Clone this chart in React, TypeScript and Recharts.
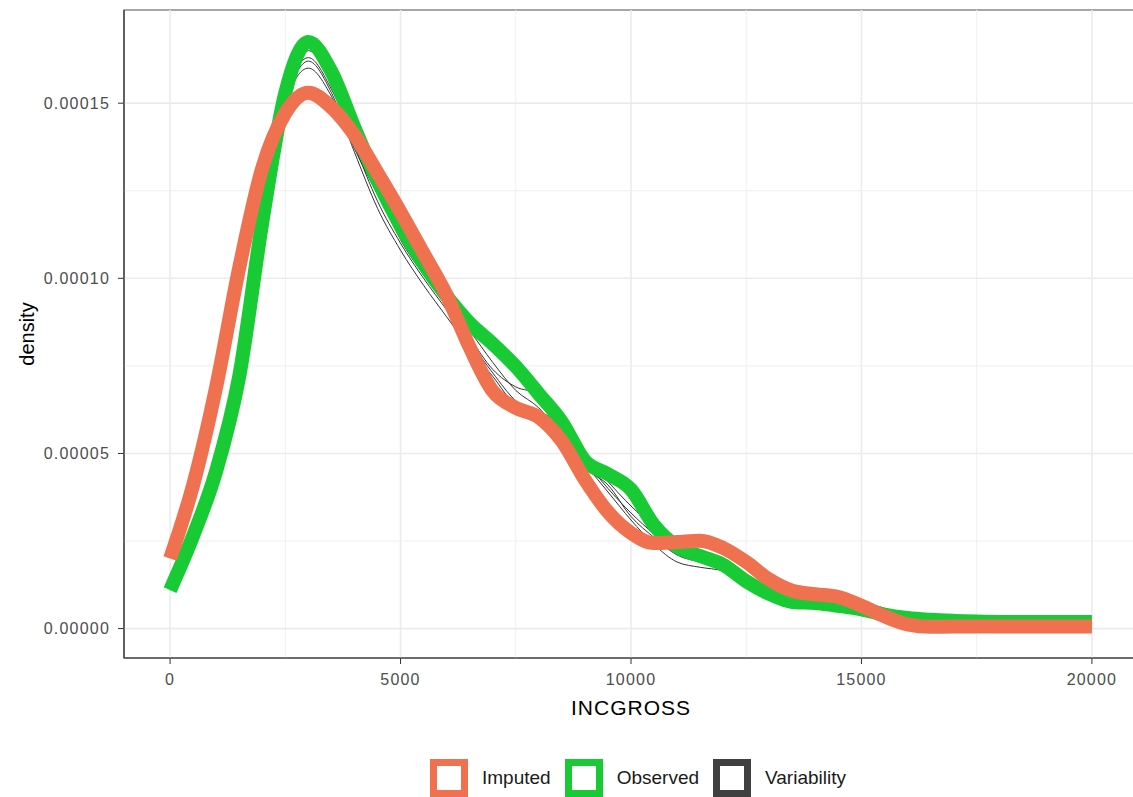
import { LineChart, Line, XAxis, YAxis, ReferenceLine, ReferenceArea, Legend } from 'recharts';

// INCGROSS grid (every 500)
const incgross = [
  0, 500, 1000, 1500, 2000, 2500, 3000, 3500, 4000, 4500,
  5000, 5500, 6000, 6500, 7000, 7500, 8000, 8500, 9000, 9500,
  10000, 10500, 11000, 11500, 12000, 12500, 13000, 13500, 14000, 14500,
  15000, 15500, 16000, 16500, 17000, 17500, 18000, 18500, 19000, 19500, 20000,
];

const imputed = [
  2.0e-5, 4.1e-5, 6.9e-5, 1.03e-4, 1.315e-4, 1.472e-4, 1.53e-4, 1.488e-4, 1.409e-4, 1.301e-4,
  1.189e-4, 1.071e-4, 9.52e-5, 8.03e-5, 6.78e-5, 6.3e-5, 6.03e-5, 5.35e-5, 4.25e-5, 3.33e-5,
  2.73e-5, 2.44e-5, 2.47e-5, 2.51e-5, 2.3e-5, 1.9e-5, 1.4e-5, 1.08e-5, 9.8e-6, 9.0e-6,
  6.5e-6, 3.5e-6, 1.2e-6, 5e-7, 6e-7, 6e-7, 6e-7, 6e-7, 6e-7, 6e-7, 6e-7,
];

const observed = [
  1.1e-5, 2.65e-5, 4.5e-5, 7.2e-5, 1.16e-4, 1.53e-4, 1.675e-4, 1.59e-4, 1.43e-4, 1.279e-4,
  1.15e-4, 1.041e-4, 9.49e-5, 8.72e-5, 8.13e-5, 7.48e-5, 6.7e-5, 5.9e-5, 4.79e-5, 4.41e-5,
  3.97e-5, 2.95e-5, 2.34e-5, 2.07e-5, 1.82e-5, 1.35e-5, 9.9e-6, 7.6e-6, 7.3e-6, 6.5e-6,
  5.5e-6, 4.0e-6, 3.0e-6, 2.5e-6, 2.2e-6, 2.0e-6, 1.9e-6, 1.9e-6, 1.9e-6, 1.9e-6, 1.9e-6,
];

// variability draws (thin black lines)
const var1 = [
  1.1e-5, 2.6e-5, 4.6e-5, 7.4e-5, 1.17e-4, 1.52e-4, 1.65e-4, 1.55e-4, 1.38e-4, 1.22e-4,
  1.1e-4, 1.0e-4, 9.1e-5, 8.2e-5, 7.3e-5, 6.5e-5, 6.1e-5, 5.6e-5, 4.8e-5, 4.0e-5,
  3.3e-5, 2.7e-5, 2.2e-5, 1.9e-5, 1.7e-5, 1.4e-5, 1.15e-5, 1.0e-5, 9.5e-6, 9.0e-6,
  7.5e-6, 5.5e-6, 4.0e-6, 3.0e-6, 2.2e-6, 2.0e-6, 1.9e-6, 1.8e-6, 1.8e-6, 1.8e-6, 1.8e-6,
];
const var2 = [
  1.2e-5, 2.7e-5, 4.7e-5, 7.5e-5, 1.18e-4, 1.5e-4, 1.62e-4, 1.53e-4, 1.36e-4, 1.2e-4,
  1.08e-4, 9.8e-5, 8.9e-5, 8.0e-5, 7.2e-5, 6.4e-5, 6.2e-5, 5.8e-5, 5.0e-5, 4.2e-5,
  3.5e-5, 2.9e-5, 2.4e-5, 2.1e-5, 1.9e-5, 1.5e-5, 1.2e-5, 1.05e-5, 9.5e-6, 8.8e-6,
  7.8e-6, 5.8e-6, 4.0e-6, 3.0e-6, 2.5e-6, 2.2e-6, 2.0e-6, 1.9e-6, 1.9e-6, 1.9e-6, 1.9e-6,
];
const var3 = [
  1.1e-5, 2.6e-5, 4.5e-5, 7.3e-5, 1.16e-4, 1.5e-4, 1.6e-4, 1.52e-4, 1.37e-4, 1.24e-4,
  1.12e-4, 1.02e-4, 9.3e-5, 8.5e-5, 7.6e-5, 6.8e-5, 6.3e-5, 5.5e-5, 4.7e-5, 3.9e-5,
  3.1e-5, 2.4e-5, 1.9e-5, 1.75e-5, 1.65e-5, 1.4e-5, 1.15e-5, 1.0e-5, 9.0e-6, 8.5e-6,
  7.2e-6, 5.0e-6, 3.5e-6, 2.5e-6, 2.0e-6, 1.8e-6, 1.7e-6, 1.7e-6, 1.7e-6, 1.7e-6, 1.7e-6,
];
const var4 = [
  1.1e-5, 2.6e-5, 4.6e-5, 7.3e-5, 1.17e-4, 1.51e-4, 1.63e-4, 1.54e-4, 1.39e-4, 1.25e-4,
  1.11e-4, 1.01e-4, 9.2e-5, 8.3e-5, 7.4e-5, 6.9e-5, 6.7e-5, 5.6e-5, 4.6e-5, 4.1e-5,
  3.2e-5, 2.6e-5, 2.1e-5, 1.9e-5, 1.75e-5, 1.45e-5, 1.2e-5, 1.0e-5, 9.3e-6, 9.0e-6,
  7.5e-6, 5.5e-6, 3.8e-6, 2.8e-6, 2.2e-6, 2.0e-6, 1.9e-6, 1.8e-6, 1.8e-6, 1.8e-6, 1.8e-6,
];

const xTicks = [0, 5000, 10000, 15000, 20000];
const xMinor = [2500, 7500, 12500, 17500];
const yTicks = [0, 0.00005, 0.0001, 0.00015];
const yMinor = [0.000025, 0.000075, 0.000125];

const legendItems = [
  { name: 'Imputed', color: '#F07150' },
  { name: 'Observed', color: '#18CB34' },
  { name: 'Variability', color: '#404040' },
];

const data = incgross.map((x, i) => ({
  x,
  imputed: imputed[i],
  observed: observed[i],
  v1: var1[i],
  v2: var2[i],
  v3: var3[i],
  v4: var4[i],
}));

const FONT = '"Liberation Sans", Arial, sans-serif';

const tickStyle = { fontFamily: FONT, fontSize: 16, fill: '#4D4D4D', letterSpacing: 1.2 };

const renderLegend = () => (
  <div style={{ display: 'flex', alignItems: 'center', fontFamily: FONT, fontSize: 19, color: '#1A1A1A' }}>
    {legendItems.map((it) => (
      <div key={it.name} style={{ display: 'flex', alignItems: 'center', marginRight: 14 }}>
        <svg width={38} height={38}>
          <rect x={3.5} y={3.5} width={31} height={31} fill="#fff" stroke={it.color} strokeWidth={7} />
        </svg>
        <span style={{ marginLeft: 14 }}>{it.name}</span>
      </div>
    ))}
  </div>
);

const yLabel = (props: any) => {
  const vb = props.viewBox;
  const cy = vb.y + vb.height / 2;
  return (
    <text x={34} y={cy} transform={`rotate(-90 34 ${cy})`} textAnchor="middle"
      style={{ fontFamily: FONT, fontSize: 20, fill: '#000' }}>density</text>
  );
};

const xLabel = (props: any) => {
  const vb = props.viewBox;
  return (
    <text x={631} y={vb.y + 57} textAnchor="middle"
      style={{ fontFamily: FONT, fontSize: 21, fill: '#000', letterSpacing: 1 }}>INCGROSS</text>
  );
};

export default function App() {
  return (
    <div style={{ position: 'absolute', left: 0, top: 0, width: 1133, height: 797, overflow: 'hidden', background: '#fff' }}>
      <LineChart width={1140} height={797} data={data} margin={{ top: 10, right: 2, left: 0, bottom: 41 }}>
        <XAxis
          dataKey="x"
          type="number"
          domain={[-1000, 21000]}
          ticks={xTicks}
          allowDataOverflow
          height={60}
          tick={tickStyle}
          tickSize={6}
          tickMargin={10}
          stroke="#333"
          axisLine={{ stroke: '#333', strokeWidth: 1.2 }}
          tickLine={{ stroke: '#333' }}
          label={xLabel}
        />
        <YAxis
          type="number"
          domain={[-0.0000084, 0.0001766]}
          ticks={yTicks}
          allowDataOverflow
          width={124}
          tick={tickStyle}
          tickSize={6}
          tickMargin={8}
          tickFormatter={(v: number) => v.toFixed(5)}
          axisLine={{ stroke: '#333', strokeWidth: 1.2 }}
          tickLine={{ stroke: '#333' }}
          label={yLabel}
        />
        {xMinor.map((v) => (
          <ReferenceLine key={'xm' + v} x={v} stroke="#EFEFEF" strokeWidth={1} />
        ))}
        {yMinor.map((v) => (
          <ReferenceLine key={'ym' + v} y={v} stroke="#EFEFEF" strokeWidth={1} />
        ))}
        {xTicks.map((v) => (
          <ReferenceLine key={'x' + v} x={v} stroke="#EBEBEB" strokeWidth={1.6} />
        ))}
        {yTicks.map((v) => (
          <ReferenceLine key={'y' + v} y={v} stroke="#EBEBEB" strokeWidth={1.6} />
        ))}
        <ReferenceArea x1={-1000} x2={21000} y1={-0.0000084} y2={0.0001766} fill="none" stroke="#8A8A8A" strokeWidth={1.5} />
        <Line type="monotone" dataKey="v1" stroke="#333" strokeWidth={1} dot={false} isAnimationActive={false} />
        <Line type="monotone" dataKey="v2" stroke="#333" strokeWidth={1} dot={false} isAnimationActive={false} />
        <Line type="monotone" dataKey="v3" stroke="#333" strokeWidth={1} dot={false} isAnimationActive={false} />
        <Line type="monotone" dataKey="v4" stroke="#333" strokeWidth={1} dot={false} isAnimationActive={false} />
        <Line type="monotone" dataKey="observed" stroke="#18CB34" strokeWidth={14} dot={false} isAnimationActive={false} />
        <Line type="monotone" dataKey="imputed" stroke="#F07150" strokeWidth={14} dot={false} isAnimationActive={false} />
        <Legend content={renderLegend} wrapperStyle={{ position: 'absolute', left: 430, top: 759, width: 'auto' }} />
      </LineChart>
    </div>
  );
}
